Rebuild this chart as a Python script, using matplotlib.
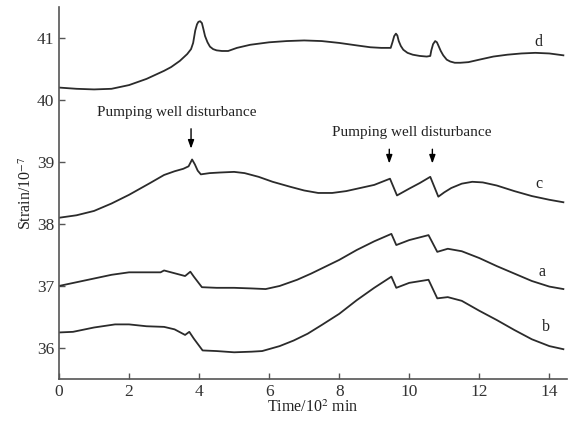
import matplotlib.pyplot as plt

plt.rcParams['font.family'] = ['Liberation Serif', 'DejaVu Serif']
plt.rcParams['mathtext.fontset'] = 'stix'

# curve d
d_x = [0, 0.5, 1.0, 1.5, 2.0, 2.5, 3.0, 3.2, 3.45, 3.66, 3.77, 3.83, 3.89, 3.94, 3.98, 4.03, 4.08,
       4.12, 4.17, 4.24, 4.31, 4.4, 4.5, 4.65, 4.83, 5.08, 5.46, 6.0, 6.5, 7.0, 7.5, 8.0, 8.5,
       8.89, 9.2, 9.47, 9.52, 9.57, 9.62, 9.66, 9.7, 9.76, 9.83, 9.95, 10.1, 10.3, 10.5, 10.6,
       10.63, 10.68, 10.74, 10.79, 10.83, 10.9, 10.97, 11.07, 11.17, 11.3, 11.46, 11.69, 12.0,
       12.4, 12.8, 13.2, 13.6, 14.0, 14.4]
d_y = [40.20, 40.18, 40.17, 40.18, 40.24, 40.34, 40.47, 40.53, 40.63, 40.74, 40.82, 40.92, 41.12,
       41.22, 41.26, 41.27, 41.24, 41.15, 41.03, 40.93, 40.86, 40.82, 40.80, 40.79, 40.79, 40.84,
       40.89, 40.93, 40.95, 40.96, 40.95, 40.92, 40.88, 40.85, 40.84, 40.84, 40.93, 41.03, 41.07,
       41.04, 40.95, 40.87, 40.81, 40.76, 40.73, 40.71, 40.70, 40.71, 40.80, 40.90, 40.95, 40.93,
       40.88, 40.79, 40.72, 40.65, 40.62, 40.60, 40.60, 40.61, 40.65, 40.70, 40.73, 40.75, 40.76,
       40.75, 40.72]

# curve c
c_x = [0, 0.5, 1.0, 1.5, 2.0, 2.6, 3.0, 3.3, 3.55, 3.7, 3.8, 3.88, 3.96, 4.05, 4.3, 4.6, 5.0, 5.3,
       5.7, 6.1, 6.6, 7.0, 7.4, 7.8, 8.2, 8.6, 9.0, 9.45, 9.65, 10.0, 10.3, 10.6, 10.83, 11.0,
       11.2, 11.5, 11.8, 12.1, 12.5, 13.0, 13.5, 14.0, 14.4]
c_y = [38.10, 38.14, 38.21, 38.33, 38.47, 38.66, 38.79, 38.85, 38.89, 38.93, 39.04, 38.96, 38.86,
       38.80, 38.82, 38.83, 38.84, 38.82, 38.76, 38.68, 38.60, 38.54, 38.50, 38.50, 38.53, 38.58,
       38.63, 38.73, 38.46, 38.57, 38.66, 38.76, 38.44, 38.51, 38.58, 38.65, 38.68, 38.67, 38.62,
       38.53, 38.45, 38.39, 38.35]

# curve a
a_x = [0, 0.5, 1.0, 1.5, 2.0, 2.5, 2.9, 3.0, 3.2, 3.6, 3.75, 3.85, 4.08, 4.5, 5.0, 5.5, 5.9, 6.3,
       6.8, 7.2, 7.6, 8.0, 8.5, 9.0, 9.49, 9.63, 10.0, 10.55, 10.8, 11.1, 11.5, 12.0, 12.5, 13.0,
       13.5, 14.0, 14.4]
a_y = [37.00, 37.06, 37.12, 37.18, 37.22, 37.22, 37.22, 37.25, 37.22, 37.16, 37.23, 37.15, 36.98,
       36.97, 36.97, 36.96, 36.95, 37.00, 37.10, 37.20, 37.31, 37.42, 37.58, 37.72, 37.84, 37.66,
       37.74, 37.82, 37.55, 37.60, 37.56, 37.45, 37.32, 37.20, 37.08, 36.99, 36.95]

# curve b
b_x = [0, 0.4, 1.0, 1.6, 2.0, 2.5, 3.0, 3.3, 3.6, 3.72, 3.85, 4.1, 4.5, 5.0, 5.5, 5.8, 6.3, 6.7,
       7.1, 7.5, 8.0, 8.5, 9.0, 9.49, 9.63, 10.0, 10.55, 10.8, 11.1, 11.5, 12.0, 12.5, 13.0, 13.5,
       14.0, 14.4]
b_y = [36.25, 36.26, 36.33, 36.38, 36.38, 36.35, 36.34, 36.30, 36.21, 36.26, 36.15, 35.96, 35.95,
       35.93, 35.94, 35.95, 36.03, 36.12, 36.23, 36.37, 36.55, 36.77, 36.97, 37.15, 36.97, 37.05,
       37.10, 36.80, 36.82, 36.76, 36.60, 36.45, 36.29, 36.14, 36.03, 35.98]

curves = [(d_x, d_y, 'd', 13.7, 40.94), (c_x, c_y, 'c', 13.7, 38.64),
          (a_x, a_y, 'a', 13.8, 37.22), (b_x, b_y, 'b', 13.9, 36.34)]

fig = plt.figure(figsize=(5.7, 4.22), dpi=100)
ax = fig.add_axes([0.1035, 0.102, 0.891, 0.8815])

for xs, ys, name, lx, ly in curves:
    ax.plot(xs, ys, color='#2b2b2b', lw=1.3, solid_joinstyle='round')
    ax.text(lx, ly, name, fontsize=11.5, ha='center', va='center', color='#222222')

# pumping well annotations
ax.text(3.37, 39.8, 'Pumping well disturbance', fontsize=11, ha='center', va='center',
        color='#222222')
ax.text(10.08, 39.47, 'Pumping well disturbance', fontsize=11, ha='center', va='center',
        color='#222222')
arrows = [(3.77, 39.58, 39.17), (9.43, 39.25, 38.93), (10.66, 39.25, 38.93)]
for ax_x, y0, y1 in arrows:
    ax.annotate('', xy=(ax_x, y1), xytext=(ax_x, y0),
                arrowprops=dict(arrowstyle='-|>,head_width=0.18,head_length=0.5',
                                color='black', lw=1.0))

ax.set_xlim(0, 14.5)
ax.set_ylim(35.5, 41.5)
ax.set_xticks([0, 2, 4, 6, 8, 10, 12, 14])
ax.set_yticks([36, 37, 38, 39, 40, 41])
ax.spines['top'].set_visible(False)
ax.spines['right'].set_visible(False)
for s in ['left', 'bottom']:
    ax.spines[s].set_color('#555555')
    ax.spines[s].set_linewidth(1.2)
ax.tick_params(direction='in', length=4, width=1, colors='#555555', labelcolor='#333333',
               labelsize=12.5)
ax.set_xlabel('Time/10$^2$ min', fontsize=11.5, labelpad=0, color='#222222')
ax.set_ylabel('Strain/10$^{-7}$', fontsize=11.5, labelpad=1, color='#222222')

fig.savefig('out.png', dpi=100)
